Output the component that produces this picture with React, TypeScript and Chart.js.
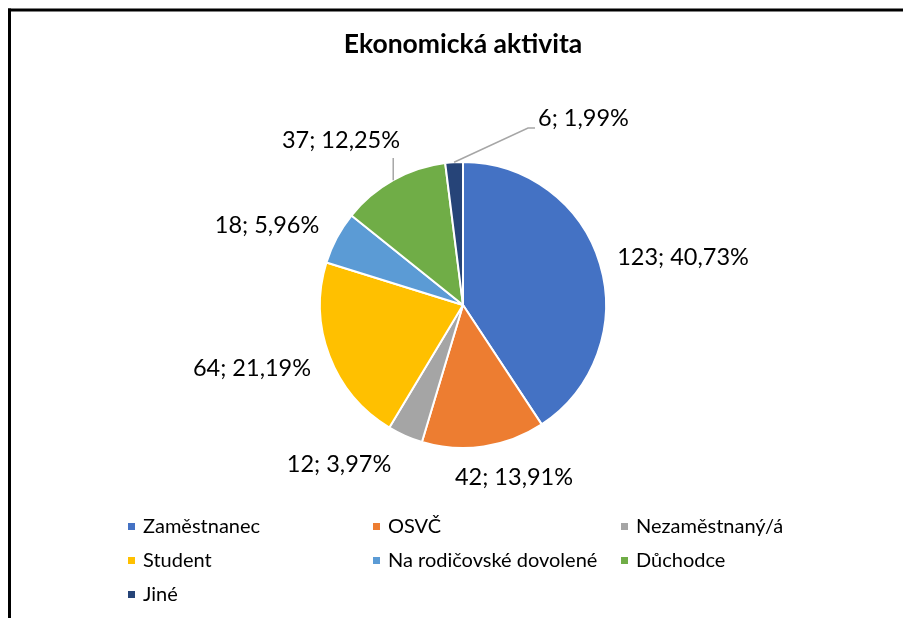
import React, { useEffect, useRef } from "react";
import { Chart, registerables } from "chart.js";

Chart.register(...registerables);

const TITLE = "Ekonomická aktivita";
const categories = [
  "Zaměstnanec",
  "OSVČ",
  "Nezaměstnaný/á",
  "Student",
  "Na rodičovské dovolené",
  "Důchodce",
  "Jiné",
];
const counts = [123, 42, 12, 64, 18, 37, 6];
const colors = ["#4472C4", "#ED7D31", "#A5A5A5", "#FFC000", "#5B9BD5", "#70AD47", "#264478"];

// label placement relative to pie centre: [dx, dy(baseline), align]
const labelLayout: [number, number, CanvasTextAlign][] = [
  [220, -40, "center"],
  [51, 180, "center"],
  [-124, 167, "center"],
  [-211, 71, "center"],
  [-196, -72, "center"],
  [-122, -157, "center"],
  [75, -179.5, "left"],
];

const FONT = "Lato, 'Open Sans', sans-serif";

const total = counts.reduce((a, b) => a + b, 0);
const labelText = (i: number) =>
  `${counts[i]}; ${((counts[i] / total) * 100).toFixed(2).replace(".", ",")}%`;

const decorPlugin = {
  id: "decor",
  beforeDraw(chart: any) {
    const ctx = chart.ctx as CanvasRenderingContext2D;
    ctx.save();
    ctx.fillStyle = "#fff";
    ctx.fillRect(0, 0, chart.width, chart.height);
    ctx.fillStyle = "#000";
    ctx.fillRect(8, 8.5, chart.width, 3);
    ctx.fillRect(8, 8.5, 3, chart.height);
    ctx.restore();
  },
  afterDraw(chart: any) {
    const ctx = chart.ctx as CanvasRenderingContext2D;
    const meta = chart.getDatasetMeta(0);
    const arc0 = meta.data[0];
    const cx = arc0.x;
    const cy = arc0.y;
    ctx.save();

    // title
    ctx.fillStyle = "#000";
    ctx.font = `bold 26.5px ${FONT}`;
    ctx.textAlign = "center";
    ctx.textBaseline = "alphabetic";
    ctx.fillText(TITLE, cx, 53);

    // leader lines for small slices
    const midPoint = (i: number) => {
      const a = meta.data[i];
      const m = (a.startAngle + a.endAngle) / 2;
      return [a.x + Math.cos(m) * a.outerRadius, a.y + Math.sin(m) * a.outerRadius];
    };
    ctx.strokeStyle = "#A6A6A6";
    ctx.lineWidth = 1.5;
    {
      const [px, py] = midPoint(6);
      ctx.beginPath();
      ctx.moveTo(px, py);
      ctx.lineTo(cx + labelLayout[6][0] - 10, cy + labelLayout[6][1] + 2.5);
      ctx.lineTo(cx + labelLayout[6][0] - 3, cy + labelLayout[6][1] + 2.5);
      ctx.stroke();
    }
    {
      const [px, py] = midPoint(5);
      ctx.beginPath();
      ctx.moveTo(px, py);
      ctx.lineTo(px, cy + labelLayout[5][1] + 10);
      ctx.stroke();
    }

    // data labels
    ctx.fillStyle = "#000";
    ctx.font = `23.5px ${FONT}`;
    for (let i = 0; i < counts.length; i++) {
      const [dx, dy, align] = labelLayout[i];
      ctx.textAlign = align;
      ctx.fillText(labelText(i), cx + dx, cy + dy);
    }

    // legend
    const colX = [128, 373, 621];
    const rowY = [533, 567, 601];
    ctx.font = `20px ${FONT}`;
    ctx.textAlign = "left";
    for (let i = 0; i < categories.length; i++) {
      const x = colX[i % 3];
      const y = rowY[Math.floor(i / 3)];
      ctx.fillStyle = colors[i];
      ctx.fillRect(x, y - 10, 7, 7);
      ctx.fillStyle = "#000";
      ctx.fillText(categories[i], x + 15, y);
    }
    ctx.restore();
  },
};

export default function App() {
  const ref = useRef<HTMLCanvasElement>(null);
  useEffect(() => {
    if (!ref.current) return;
    const chart = new Chart(ref.current, {
      type: "pie",
      data: {
        labels: categories,
        datasets: [
          {
            data: counts,
            backgroundColor: colors,
            borderColor: "#fff",
            borderWidth: 2,
            radius: 143,
          } as any,
        ],
      },
      options: {
        responsive: false,
        animation: false,
        layout: { padding: { left: 320, right: 297, top: 162, bottom: 170 } },
        plugins: {
          legend: { display: false },
          title: { display: false },
          tooltip: { enabled: false },
        },
      },
      plugins: [decorPlugin],
    });
    return () => chart.destroy();
  }, []);
  return (
    <canvas
      ref={ref}
      width={903}
      height={618}
      style={{ position: "fixed", left: 0, top: 0, width: 903, height: 618 }}
    />
  );
}
